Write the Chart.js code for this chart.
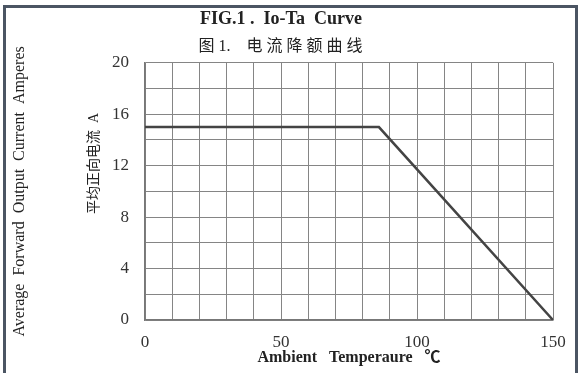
<!DOCTYPE html>
<html>
<head>
<meta charset="utf-8">
<script src="https://cdn.jsdelivr.net/npm/chart.js@4.4.1/dist/chart.umd.min.js"></script>
<style>
  html, body { margin: 0; padding: 0; background: #fff; }
  #frame {
    position: absolute; left: 3px; top: 5px; width: 569px; height: 368px;
    border: 3px solid #4b5563; border-bottom: none;
  }
  #wrap { position: absolute; left: 0; top: 0; width: 579px; height: 373px; }
</style>
</head>
<body>
<div id="frame"></div>
<div id="wrap"><canvas id="ioTaChart" width="579" height="373"></canvas></div>
<script>
// Io-Ta derating curve
const temps = [0, 86, 150];      // ambient temperature, deg C
const currents = [15, 15, 0];    // average forward output current, A
const xLabelValues = [0, 50, 100, 150];
const yLabelValues = [0, 4, 8, 12, 16, 20];

const serif = "'Liberation Serif', 'Times New Roman', 'Noto Sans CJK SC', serif";
const gridColor = "#858585";
const inkColor = "#333333";

let ioTaChart = new Chart(document.getElementById("ioTaChart").getContext("2d"), {
  type: "line",
  data: {
    datasets: [
      {
        label: "Io",
        data: temps.map((t, i) => ({ x: t, y: currents[i] })),
        borderColor: "#444444",
        borderWidth: 2.5,
        pointRadius: 0,
        tension: 0,
      },
    ],
  },
  options: {
    responsive: false,
    animation: false,
    layout: { padding: { left: 0, right: 26, top: 0, bottom: 0 } },
    plugins: {
      legend: { display: false },
      tooltip: { enabled: false },
      title: {
        display: true,
        text: "  FIG.1 .  Io-Ta  Curve",
        color: "#222",
        font: { family: serif, size: 18, weight: "bold" },
        padding: { top: 9, bottom: 3 },
      },
      subtitle: {
        display: true,
        text: "  图 1.    电 流 降 额 曲 线",
        color: "#222",
        font: { family: serif, size: 16 },
        padding: { top: 4, bottom: 6 },
      },
    },
    scales: {
      x: {
        type: "linear",
        min: 0,
        max: 150,
        ticks: {
          stepSize: 10,
          autoSkip: false,
          maxRotation: 0,
          padding: 12,
          color: inkColor,
          font: { family: serif, size: 17 },
          callback: (v) => (xLabelValues.includes(v) ? v : ""),
        },
        grid: { color: gridColor, drawTicks: false, lineWidth: 1 },
        border: { color: "#777", width: 1.5 },
        title: {
          display: true,
          text: "Ambient   Temperaure   ℃",
          color: "#222",
          font: { family: serif, size: 16, weight: "bold" },
          padding: { top: 0, bottom: 6 },
        },
        afterFit: (scale) => { scale.height = 53; },
      },
      y: {
        min: 0,
        max: 20,
        weight: 0,
        ticks: {
          stepSize: 2,
          padding: 16,
          color: inkColor,
          font: { family: serif, size: 17 },
          callback: (v) => (yLabelValues.includes(v) ? v : ""),
        },
        grid: { color: gridColor, drawTicks: false, lineWidth: 1 },
        border: { color: "#777", width: 1.5 },
        title: {
          display: true,
          text: "　　　　平均正向电流  A",
          color: "#222",
          font: { family: serif, size: 14 },
          padding: { top: 57, bottom: 9 },
        },
        afterFit: (scale) => { scale.width = 116; },
      },
      yOuter: {
        position: "left",
        min: 0,
        max: 20,
        weight: 1,
        ticks: { display: false },
        grid: { display: false, drawTicks: false },
        border: { display: false },
        title: {
          display: true,
          text: "Average  Forward  Output  Current  Amperes",
          color: "#222",
          font: { family: serif, size: 16 },
          padding: { top: 10, bottom: 0 },
        },
        afterFit: (scale) => { scale.width = 29; },
      },
    },
  },
});
</script>
</body>
</html>
